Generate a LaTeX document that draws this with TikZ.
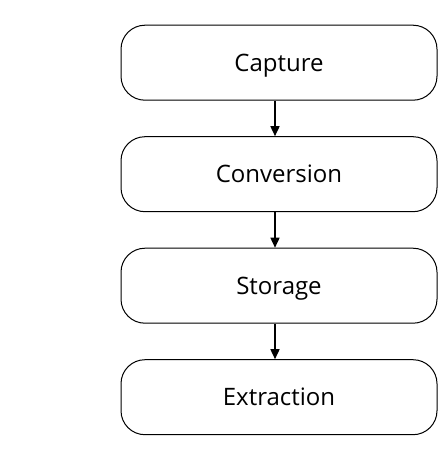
\documentclass[tikz,border=0pt]{standalone}
\usepackage{fontspec}
\setmainfont{Open Sans}
\usetikzlibrary{arrows.meta,positioning}
\tikzset{
  stagebox/.style={draw=black,line width=1pt,rounded corners=24pt,fill=white,align=center,minimum width=316pt,minimum height=75pt,inner sep=0pt,text height=17.2pt,text depth=0pt},
  flow/.style={-{Triangle[length=10pt,width=9pt]},line width=1.6pt,draw=black}
}

\begin{document}
\begin{tikzpicture}[node distance=35.5pt,font=\fontsize{24}{28}\selectfont]
  \useasboundingbox (0,0) rectangle (447pt,-460pt);
  \node[stagebox] (capture) at (279pt,-62.7pt) {Capture};
  \node[stagebox,below=of capture] (conversion) {Conversion};
  \node[stagebox,below=of conversion] (storage) {Storage};
  \node[stagebox,below=of storage] (extraction) {Extraction};
  \draw[flow] ([xshift=-4pt]capture.south) -- ([xshift=-4pt]conversion.north);
  \draw[flow] ([xshift=-4pt]conversion.south) -- ([xshift=-4pt]storage.north);
  \draw[flow] ([xshift=-4pt]storage.south) -- ([xshift=-4pt]extraction.north);
\end{tikzpicture}
\end{document}
